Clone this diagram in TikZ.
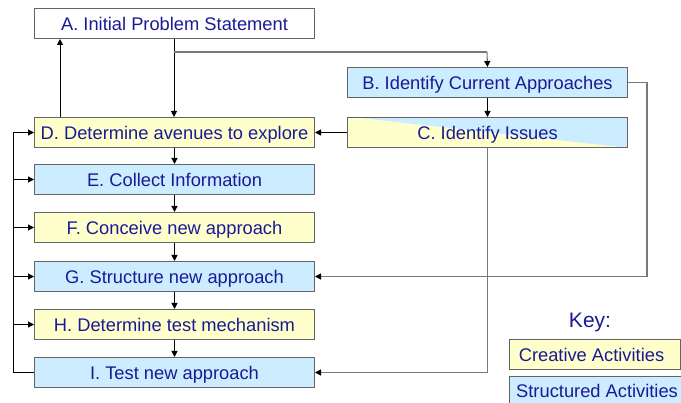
\documentclass[tikz,border=0pt]{standalone}
\usepackage{fontspec}
\setmainfont{Liberation Sans}
\usetikzlibrary{arrows.meta}
\definecolor{creative}{RGB}{255,255,204}
\definecolor{structured}{RGB}{204,236,255}
\definecolor{labelblue}{RGB}{26,26,150}
\definecolor{boxedge}{RGB}{100,100,100}
\definecolor{wire}{RGB}{120,120,120}
\tikzset{
  x=1pt, y=-1pt,
  activity/.style={draw=boxedge, line width=1pt, text=labelblue,
    font=\fontsize{18.3}{21}\selectfont, inner sep=0pt, anchor=north west,
    text height=13.1pt, text depth=0pt},
  creativebox/.style={activity, fill=creative},
  structbox/.style={activity, fill=structured},
  plainbox/.style={activity, fill=white},
  flow/.style={line width=1pt, black, -{Triangle[length=6pt,width=6pt]}},
  flowgray/.style={line width=1.1pt, wire, -{Triangle[length=6pt,width=6pt,color=black]}},
  linkgray/.style={line width=1.1pt, wire},
}
\begin{document}
\begin{tikzpicture}
\useasboundingbox (0,0) rectangle (681,403);
\fill[white] (0,0) rectangle (681,403);

% process boxes
\node[plainbox, minimum width=280pt, minimum height=30pt] (A) at (34,8) {A. Initial Problem Statement};
\node[structbox, minimum width=280pt, minimum height=30pt] (B) at (347,67) {B. Identify Current Approaches};
% C: two-tone fill split along a diagonal
\fill[creative] (347,117) rectangle (627,147);
\fill[structured] (352,117) -- (627,117) -- (627,147) -- (620,147) -- cycle;
\node[activity, minimum width=280pt, minimum height=30pt] (C) at (347,117) {C. Identify Issues};
\node[creativebox, minimum width=280pt, minimum height=30pt] (D) at (34,117) {D. Determine avenues to explore};
\node[structbox, minimum width=280pt, minimum height=30pt] (E) at (34,164) {E. Collect Information};
\node[creativebox, minimum width=280pt, minimum height=30pt] (F) at (34,212) {F. Conceive new approach};
\node[structbox, minimum width=280pt, minimum height=30pt] (G) at (34,261) {G. Structure new approach};
\node[creativebox, minimum width=280pt, minimum height=30pt] (H) at (34,309) {H. Determine test mechanism};
\node[structbox, minimum width=280pt, minimum height=30pt] (I) at (34,357) {I. Test new approach};

% key
\node[text=labelblue, font=\fontsize{21}{24}\selectfont] (key) at (590,322) {Key:};
\begin{scope}
\clip (0,0) rectangle (681,403);
\node[creativebox, minimum width=171pt, minimum height=30pt] (kc) at (509,339) {\hspace*{-1pt}Creative Activities\hspace*{6pt}};
\node[structbox, minimum width=182pt, minimum height=34pt] (ks) at (509,376) {};
\node[text=labelblue, font=\fontsize{18.3}{21}\selectfont, anchor=west, inner sep=0pt] (kst) at (516,391) {Structured Activities};
\end{scope}

% main chain
\coordinate (abend) at (487,52);
\draw[flow] (A.south -| 174,0) -- (D.north -| 174,0);
\draw[flow] (D.north -| 60,0) -- (A.south -| 60,0);
\draw[linkgray] (174,52) -- (abend);
\draw[flowgray] (abend) -- (B.north);
\draw[flow] (B.south) -- (C.north);
\draw[flow] (C.west) -- (D.east);
\draw[flow] (D.south) -- (E.north);
\draw[flow] (E.south) -- (F.north);
\draw[flow] (F.south) -- (G.north);
\draw[flow] (G.south) -- (H.north);
\draw[flow] (H.south) -- (I.north);

% B feeds G, C feeds I
\coordinate (bturn) at (647,0);
\draw[flowgray] (B.east) -| (bturn |- G.east) -- (G.east);
\draw[flowgray] (C.south) |- (I.east);

% feedback from I to D..H
\coordinate (rail) at (13,0);
\draw[line width=1pt] (I.west) -| (rail |- D.west);
\draw[flow] (rail |- D.west) -- (D.west);
\draw[flow] (rail |- E.west) -- (E.west);
\draw[flow] (rail |- F.west) -- (F.west);
\draw[flow] (rail |- G.west) -- (G.west);
\draw[flow] (rail |- H.west) -- (H.west);
\end{tikzpicture}
\end{document}
